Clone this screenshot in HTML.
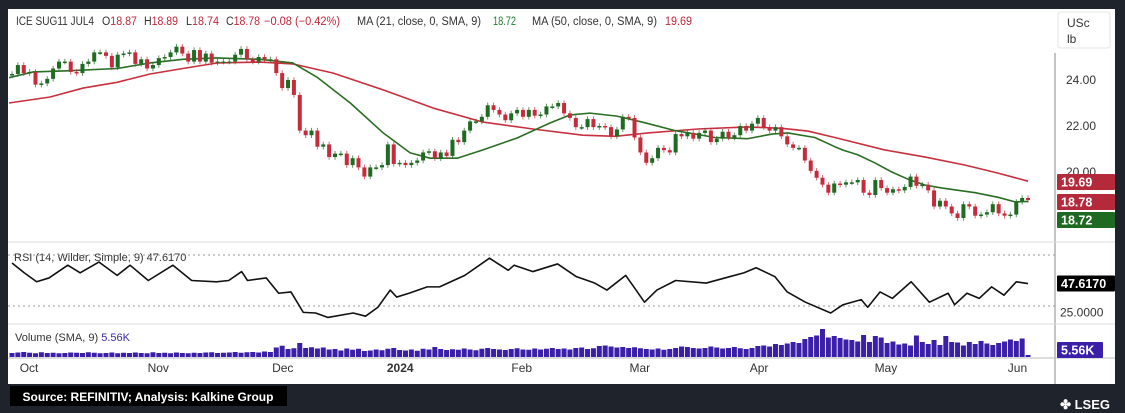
<!DOCTYPE html>
<html><head><meta charset="utf-8"><style>
html,body{margin:0;padding:0;background:#1f232c;width:1125px;height:413px;overflow:hidden;font-family:"Liberation Sans",sans-serif}
svg{display:block}
</style></head><body>
<svg id="chart" width="1125" height="413" xmlns="http://www.w3.org/2000/svg" font-family="Liberation Sans, sans-serif">
<rect x="0" y="0" width="1125" height="413" fill="#1f232c"/>
<rect x="8" y="9" width="1107" height="375" fill="#ffffff"/>
<line x1="1055" y1="53" x2="1055" y2="384" stroke="#888" stroke-width="1"/>
<line x1="8" y1="242" x2="1115" y2="242" stroke="#ddd"/>
<line x1="8" y1="324" x2="1115" y2="324" stroke="#ddd"/>
<line x1="8" y1="358" x2="1115" y2="358" stroke="#bbb"/>
<rect x="1058" y="12" width="52" height="36" rx="3" fill="#fff" stroke="#e4e4e4"/>
<text x="1067" y="27" font-size="12" fill="#333">USc</text>
<text x="1067" y="43" font-size="12" fill="#333">lb</text>
<g font-size="11.5" fill="#333">
<text x="16" y="25" textLength="78" lengthAdjust="spacingAndGlyphs">ICE SUG11 JUL4</text>
<text x="102" y="25" textLength="35" lengthAdjust="spacingAndGlyphs">O<tspan fill="#c0283a">18.87</tspan></text>
<text x="144" y="25" textLength="34" lengthAdjust="spacingAndGlyphs">H<tspan fill="#c0283a">18.89</tspan></text>
<text x="186" y="25" textLength="33" lengthAdjust="spacingAndGlyphs">L<tspan fill="#c0283a">18.74</tspan></text>
<text x="226" y="25" textLength="34" lengthAdjust="spacingAndGlyphs">C<tspan fill="#c0283a">18.78</tspan></text>
<text x="264" y="25" textLength="76" lengthAdjust="spacingAndGlyphs" fill="#c0283a">−0.08 (−0.42%)</text>
<text x="357" y="25" textLength="124" lengthAdjust="spacingAndGlyphs">MA (21, close, 0, SMA, 9)</text>
<text x="493" y="25" textLength="23" lengthAdjust="spacingAndGlyphs" fill="#1e7b2e">18.72</text>
<text x="532" y="25" textLength="125" lengthAdjust="spacingAndGlyphs">MA (50, close, 0, SMA, 9)</text>
<text x="665" y="25" textLength="27" lengthAdjust="spacingAndGlyphs" fill="#c0283a">19.69</text>
</g>
<text x="14" y="261" font-size="11" fill="#333">RSI (14, Wilder, Simple, 9)  47.6170</text>
<text x="15" y="341" font-size="11" fill="#333">Volume (SMA, 9)  <tspan fill="#3b2aa8">5.56K</tspan></text>
<g id="grid"></g><g id="vol"></g><g id="ma"></g><g id="candles"></g><g id="rsi"></g><g id="axes"></g>
<rect x="10" y="386" width="277" height="20" fill="#000"/>
<text x="148" y="401" font-size="12" font-weight="bold" fill="#fff" text-anchor="middle">Source: REFINITIV; Analysis: Kalkine Group</text>
<text x="1110" y="409" font-size="13" font-weight="bold" fill="#fff" text-anchor="end">✤ LSEG</text>
</svg>
<script>
const closes=[24.26,24.65,24.3,24.35,23.8,23.85,24.05,24.5,24.8,24.8,24.35,24.3,24.7,24.8,25.2,25.2,25.05,24.55,25.1,25.15,25.2,24.7,24.9,24.5,24.65,24.95,25.0,25.2,25.45,25.15,24.8,25.3,24.8,25.15,24.75,24.8,24.8,24.8,25.1,25.35,24.9,
24.8,25.0,24.9,24.9,24.3,23.65,24.0,23.35,21.8,21.6,21.8,21.1,21.2,20.65,20.8,20.8,20.3,20.6,20.2,19.8,20.2,20.2,20.3,21.2,20.35,20.4,20.3,20.4,20.5,20.85,20.9,20.6,20.85,20.7,21.4,21.3,21.8,22.2,22.2,22.4,22.9,22.7,22.5,22.25,22.55,22.7,22.4,22.7,22.45,22.5,22.85,22.85,23.0,22.55,22.35,21.95,21.95,22.3,21.95,22.0,21.95,21.55,21.85,22.4,
22.35,21.5,20.85,20.4,20.6,21.05,20.95,20.85,21.65,21.55,21.7,21.45,21.7,21.8,21.3,21.45,21.75,21.5,21.6,22.0,21.8,22.1,22.35,21.95,21.8,21.95,21.55,21.2,21.05,21.05,20.5,20.05,19.75,19.45,19.1,
19.5,19.45,19.55,19.55,19.65,19.1,19.0,19.65,19.3,19.1,19.25,19.2,19.35,19.8,19.4,19.45,19.2,18.5,18.75,18.5,18.2,18.0,18.6,18.5,18.1,18.15,18.25,18.6,18.2,18.1,18.15,18.7,18.87,18.78];
const firstOpen=24.2;
const volumes=[1.6,1.8,2.0,1.7,1.5,1.9,1.6,1.7,1.5,1.6,1.8,1.7,1.6,1.9,1.7,1.5,1.6,1.8,1.5,1.7,1.6,1.8,1.6,1.5,1.9,1.6,1.7,1.5,1.8,1.6,1.5,1.7,1.6,1.8,1.9,1.6,1.7,1.8,2.0,1.7,1.9,2.0,1.8,2.2,2.0,
3.8,4.5,3.2,3.5,5.6,3.6,3.9,3.4,3.8,3.0,3.2,2.6,3.4,2.9,3.3,2.4,
2.6,3.0,2.7,3.3,3.6,2.8,2.6,3.0,2.5,3.3,3.0,4.0,3.2,2.8,3.1,2.9,3.4,3.0,2.7,3.3,3.6,3.2,3.0,2.8,3.2,3.5,3.0,2.9,3.4,3.0,3.3,3.6,3.2,3.4,3.0,3.6,3.8,3.2,3.5,4.4,4.6,4.2,3.8,4.0,3.6,3.9,3.5,3.2,3.0,3.4,2.9,3.2,3.6,4.2,4.0,3.6,3.4,
3.6,4.2,3.8,3.4,3.6,4.0,3.5,3.2,3.6,4.4,4.6,4.2,5.2,4.8,5.4,6.0,5.6,7.2,
8.0,8.6,11.2,7.8,8.4,7.6,7.0,6.8,6.2,8.8,6.0,8.4,7.8,5.6,6.2,
5.0,5.4,4.6,8.6,6.0,5.2,6.8,4.8,8.4,6.0,5.8,4.6,6.0,5.2,6.4,5.4,4.8,5.6,6.2,7.0,6.4,7.4,0.8];
const ma21Pos=[-0.5,3.6,9.4,17.9,23.5,29.1,34.9,42.2,47.8,51.9,57.6,63.2,67.8,71.2,75.8,80.2,86.0,91.6,95.0,98.4,103.0,107.3,112.9,119.7,125.3,129.4,132.1,136.7,140.1,141.5,144.0,146.9,149.8,152.9,155.5,158.4,164.0,167.9,170.8,173];
const ma21=[24.1,24.35,24.4,24.5,24.74,24.9,24.96,24.9,24.74,24.13,23.0,21.7,20.83,20.6,20.6,20.96,21.48,22.13,22.48,22.56,22.43,22.17,21.8,21.5,21.45,21.65,21.7,21.5,21.1,20.95,20.75,20.4,20.0,19.65,19.43,19.3,19.1,18.9,18.7,18.72];
const ma50Pos=[-0.5,6.5,12.1,17.9,23.5,29.1,34.9,42.2,47.8,54.7,63.2,71.7,80.2,88.7,97.2,102.7,108.3,116.8,125.3,131.1,135.5,140.1,148.6,155.5,162.3,167.9,173];
const ma50=[23.0,23.26,23.65,23.9,24.26,24.5,24.74,24.78,24.7,24.3,23.57,22.78,22.17,21.87,21.6,21.55,21.7,21.87,21.96,21.9,21.78,21.5,20.96,20.65,20.3,19.95,19.6];
const rsiPos=[0,2.1,4.2,6.3,9.5,11.6,14.8,17.9,20.1,23.2,27.4,30.6,34.8,36.9,39.1,40.1,43.3,45.4,47.5,49.6,51.7,53.8,58.1,60.2,62.3,64.4,65.5,67.6,70.7,72.8,77.1,81.3,84.5,85.5,88.7,92.9,96.1,99.2,101.3,104.5,107.7,109.8,113,118.2,121.4,124.6,126.7,129.9,132,135.1,139.4,141.5,144.6,145.7,147.8,149.9,153.1,156.2,159.4,160.5,162.6,164.7,166.8,168.9,171,173];
const rsiVal=[63.7,56,49,52,62,56,64.5,54,62,50,62,50,49,50,57,50,52,40,41,25,24.5,21,24.5,22,29,42.5,37,40,45,45,54,67.5,58,62,57,63,53,48,42.5,54,33,42.5,50,48,52,56,60,53,41,33,24.5,31,35,29,41,36,49,33,40,31,40,36,45,38.5,49,47.6];
const priceTicks=[24,22];
const monthLabels=["Oct","Nov","Dec","2024","Feb","Mar","Apr","May","Jun"];
const monthPos=[2.9,24.9,46.1,66.1,86.8,106.9,127.2,148.8,171.2];

const NS="http://www.w3.org/2000/svg";
const X=i=>12+i*5.873;
const PY=p=>80+(24-p)*23;
const RY=r=>255+(70-r)*1.275;
const VY=v=>357-v*2.5;
const GREEN="#1e6b22",RED="#c62b3b";
function mk(tag,attrs,parent){const e=document.createElementNS(NS,tag);for(const k in attrs)e.setAttribute(k,attrs[k]);document.getElementById(parent).appendChild(e);return e;}
let g=mk('line',{x1:8,x2:1055,y1:RY(70),y2:RY(70),stroke:'#999','stroke-dasharray':'2,3'},'grid');


g=mk('line',{x1:8,x2:1055,y1:RY(30),y2:RY(30),stroke:'#999','stroke-dasharray':'2,3'},'grid');


volumes.forEach((v,i)=>{const r=mk('rect',{x:X(i)-2.5,y:VY(v),width:5,height:357-VY(v),fill:'#3b1fa8'},'vol');

});
function line(idx,vals,color,name){const pts=idx.map((k,j)=>X(k)+','+PY(vals[j])).join(' ');const p=mk('polyline',{points:pts,fill:'none',stroke:color,'stroke-width':1.6,'stroke-linejoin':'round'},'ma');

}
line(ma50Pos,ma50,'#c8303f','ma50-line');
line(ma21Pos,ma21,'#2a6e23','ma21-line');
closes.forEach((c,i)=>{const o=i?closes[i-1]:firstOpen;const up=c>=o;const col=up?GREEN:RED;
const hi=Math.max(o,c)+0.12,lo=Math.min(o,c)-0.12;
const w=mk('line',{x1:X(i),x2:X(i),y1:PY(hi),y2:PY(lo),stroke:col,'stroke-width':1,opacity:0.7},'candles');


const y1=PY(Math.max(o,c)),h=Math.max(1.5,PY(Math.min(o,c))-y1);
const b=mk('rect',{x:X(i)-2,y:y1,width:4,height:h,fill:col},'candles');

});
const rl=mk('polyline',{points:rsiPos.map((k,j)=>X(k)+','+RY(rsiVal[j])).join(' '),fill:'none',stroke:'#111','stroke-width':1.6,'stroke-linejoin':'round'},'rsi');


priceTicks.forEach(t=>{const e=mk('text',{x:1066,y:PY(t)+4,'font-size':12,fill:'#333'},'axes');e.textContent=t.toFixed(2);

});
let e=mk('text',{x:1066,y:176,'font-size':12,fill:'#333'},'axes');e.textContent='20.00';


e=mk('text',{x:1060,y:RY(25)+4,'font-size':12,fill:'#333'},'axes');e.textContent='25.0000';


monthLabels.forEach((m,j)=>{const t=mk('text',{x:X(monthPos[j]),y:372,'font-size':12,fill:'#333','text-anchor':'middle','font-weight':m==='2024'?'bold':'normal'},'axes');t.textContent=m;

});
function tag(y,txt,bg,name,w){const r=mk('rect',{x:1057,y:y-8,width:w||58,height:16,fill:bg,rx:1},'axes');


const t=mk('text',{x:1061,y:y+4.5,'font-size':12.5,'font-weight':'bold',fill:'#fff'},'axes');t.textContent=txt;

}
tag(182,'19.69','#b52a3a','ma50-value-tag');
tag(202,'18.78','#b52a3a','last-price-tag');
tag(220,'18.72','#1f6a22','ma21-value-tag');
tag(RY(47.617),'47.6170','#000','rsi-value-tag',58);
tag(350,'5.56K','#3b1fa8','volume-value-tag',46);
</script>
</body></html>
